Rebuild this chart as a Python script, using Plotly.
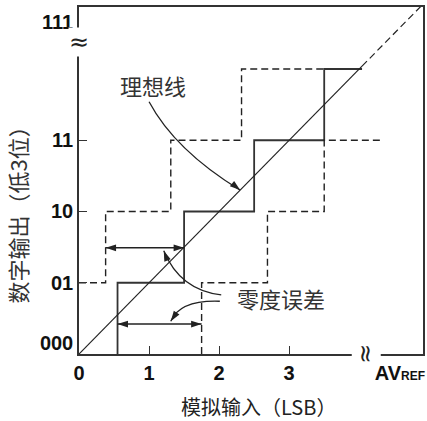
import plotly.graph_objects as go

# ---- data ----
ideal_step_x = [0.55, 0.55, 1.5, 1.5, 2.5, 2.5, 3.5, 3.5, 4.04]
ideal_step_y = [0, 1, 1, 2, 2, 3, 3, 4, 4]
left_step_x = [0, 0.38, 0.38, 1.31, 1.31, 2.32, 2.32, 3.5]
left_step_y = [1, 1, 2, 2, 3, 3, 4, 4]
right_step_x = [1.75, 1.75, 2.69, 2.69, 3.5, 3.5, 4.32]
right_step_y = [0, 1, 1, 2, 2, 3, 3]
ideal_line_x = [0, 4.04]
ideal_line_y = [0, 4.04]
ideal_dash_x = [4.04, 4.95]
ideal_dash_y = [4.04, 4.95]

zero_err_upper_x = [0.38, 1.5]
zero_err_upper_y = [1.49, 1.49]
zero_err_lower_x = [0.55, 1.75]
zero_err_lower_y = [0.42, 0.42]

x_tick_vals = [0, 1, 2, 3, 4.58]
x_tick_text = ["0", "1", "2", "3", "AV<span style='font-size:12px'>REF</span>"]
y_tick_vals = [0.15, 1, 2, 3, 4.66]
y_tick_text = ["000", "01", "10", "11", "111"]
minor_ticks = [1, 2, 3]

# callout curves: start, control, end
ideal_callout = [(1.0, 3.54), (1.37, 2.86), (2.3, 2.3)]
zero_callout_up = [(2.03, 0.83), (1.44, 0.90), (1.21, 1.45)]
zero_callout_low = [(2.01, 0.74), (1.44, 0.76), (1.31, 0.46)]

INK = "#222222"
fig = go.Figure()

def line(x, y, dash="solid", width=1.6, color=INK):
    fig.add_trace(go.Scatter(x=x, y=y, mode="lines",
                             line=dict(color=color, width=width, dash=dash),
                             hoverinfo="skip"))

line(ideal_step_x, ideal_step_y, width=1.8, color="#333333")
line(left_step_x, left_step_y, dash="7px,4px", width=1.4)
line(right_step_x, right_step_y, dash="7px,4px", width=1.4)
line(ideal_line_x, ideal_line_y, width=1.2)
line(ideal_dash_x, ideal_dash_y, dash="7px,4px", width=1.2)

# double arrows
for xs, ys in [(zero_err_upper_x, zero_err_upper_y), (zero_err_lower_x, zero_err_lower_y)]:
    fig.add_trace(go.Scatter(x=xs, y=ys, mode="lines+markers",
                             line=dict(color=INK, width=1.5),
                             marker=dict(symbol="arrow", size=11, color=INK,
                                         angle=[-90, 90]),
                             hoverinfo="skip"))

shapes = []
tips = []
for pts, ang in [(ideal_callout, 129), (zero_callout_up, -21), (zero_callout_low, -146)]:
    (x0, y0), (cx, cy), (x1, y1) = pts
    shapes.append(dict(type="path", xref="x", yref="y",
                       path=f"M {x0},{y0} Q {cx},{cy} {x1},{y1}",
                       line=dict(color=INK, width=1.3)))
    tips.append((x1, y1, ang))

fig.add_trace(go.Scatter(x=[t[0] for t in tips], y=[t[1] for t in tips], mode="markers",
                         marker=dict(symbol="arrow", size=11, color=INK,
                                     angle=[t[2] for t in tips]),
                         hoverinfo="skip"))

cjk = "Noto Sans CJK SC"
annotations = [
    dict(x=0.56, y=3.77, xref="x", yref="y", text="理想线", showarrow=False,
         xanchor="left", yanchor="middle", font=dict(family=cjk, size=22, color="#333")),
    dict(x=2.23, y=0.78, xref="x", yref="y", text="零度误差", showarrow=False,
         xanchor="left", yanchor="middle", font=dict(family=cjk, size=22, color="#333")),
    dict(x=0.521, y=-0.150, xref="paper", yref="paper", text="模拟输入（LSB）",
         xanchor="center", yanchor="middle",
         showarrow=False, font=dict(family=cjk, size=20, color="#222")),
    dict(x=-0.179, y=0.418, xref="paper", yref="paper", text="数字输出（低3位）",
         xanchor="center", yanchor="middle",
         textangle=-90, showarrow=False, font=dict(family=cjk, size=22, color="#333")),
    # axis break marks
    dict(x=0, y=4.38, xref="x", yref="y", text="≈", showarrow=False,
         bgcolor="white", borderpad=0, font=dict(family="DejaVu Sans", size=24, color=INK)),
    dict(x=4.1, y=0, xref="x", yref="y", text="≈", textangle=90, showarrow=False,
         bgcolor="white", borderpad=0, font=dict(family="DejaVu Sans", size=24, color=INK)),
]

tickfont = dict(family="Liberation Sans", size=20, color="#111", weight="bold")
fig.update_layout(
    width=427, height=421,
    margin=dict(l=79, r=4, t=7, b=67),
    plot_bgcolor="white", paper_bgcolor="white",
    showlegend=False,
    shapes=shapes, annotations=annotations,
    xaxis=dict(range=[0, 4.91], showgrid=False, zeroline=False,
               showline=True, mirror=True, linecolor="#333", linewidth=1.5,
               tickvals=x_tick_vals, ticktext=x_tick_text, ticks="",
               tickfont=tickfont, automargin=False, ticklabeloverflow="allow",
               minor=dict(tickvals=minor_ticks, ticks="inside", ticklen=8,
                          tickcolor="#333", tickwidth=1.2)),
    yaxis=dict(range=[0, 4.87], showgrid=False, zeroline=False,
               showline=True, mirror=True, linecolor="#333", linewidth=1.5,
               tickvals=y_tick_vals, ticktext=y_tick_text, ticks="",
               tickfont=tickfont, automargin=False,
               minor=dict(tickvals=minor_ticks, ticks="inside", ticklen=8,
                          tickcolor="#333", tickwidth=1.2)),
)
fig.write_html("out.html", config={"displayModeBar": False},
               post_script="document.body.style.margin='0px';")
